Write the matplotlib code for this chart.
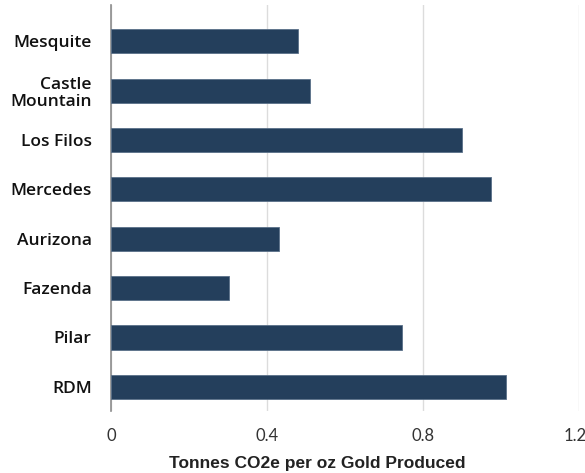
import matplotlib
matplotlib.use("Agg")
import matplotlib.pyplot as plt
from matplotlib.transforms import ScaledTranslation

# data
mines = ["Mesquite", "Castle\nMountain", "Los Filos", "Mercedes",
         "Aurizona", "Fazenda", "Pilar", "RDM"]
intensity = [0.48, 0.51, 0.90, 0.975, 0.43, 0.303, 0.745, 1.013]
xticks = [0, 0.4, 0.8, 1.2]
xtick_labels = ["0", "0.4", "0.8", "1.2"]

fig = plt.figure(figsize=(5.85, 4.73), dpi=100)
ax = fig.add_axes([0.19, 0.131, 0.7997, 0.858])

pos = list(range(len(mines)))
ax.barh(pos, intensity, height=0.49, color="#243f5c", edgecolor="#5a7089",
        linewidth=0.6, zorder=3)

ax.set_xlim(0, 1.2)
ax.set_ylim(7.49, -0.73)
ax.set_xticks(xticks)
ax.set_xticklabels(xtick_labels, fontsize=12, fontfamily="Lato",
                   color="#333333")
ax.set_yticks(pos)
ax.set_yticklabels(mines, fontsize=12.5, fontfamily="Open Sans",
                   fontweight="semibold", color="#111111", linespacing=1.15)
ax.tick_params(axis="both", length=0)
ax.tick_params(axis="x", pad=12)
ax.tick_params(axis="y", pad=14)

# keep the last tick label inside the figure
last = ax.get_xticklabels()[-1]
last.set_transform(last.get_transform() + ScaledTranslation(-4 / 100, 0, fig.dpi_scale_trans))

ax.grid(axis="x", color="#dcdcdc", linewidth=1, zorder=0)
for s in ["top", "right", "bottom"]:
    ax.spines[s].set_visible(False)
ax.spines["left"].set_color("#8c8c8c")
ax.spines["left"].set_linewidth(1.2)

ax.set_xlabel("Tonnes CO2e per oz Gold Produced", fontsize=12.5,
              fontfamily="Liberation Sans", fontweight="bold",
              color="#222222")
ax.xaxis.set_label_coords(0.44, -0.112)

fig.savefig("out.png", dpi=100)
